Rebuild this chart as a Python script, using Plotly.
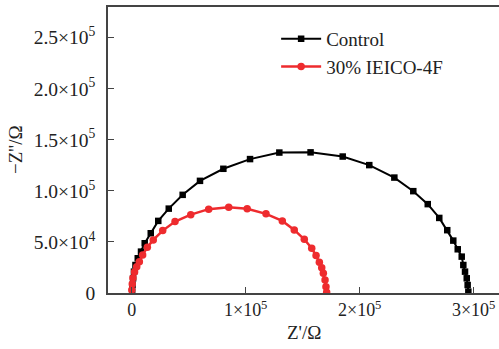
import plotly.graph_objects as go

# Control (black squares)
ctrl_x = [400, 700, 1200, 2000, 3300, 5300, 8160, 11400, 16700, 23300, 32500, 44700, 59900, 80400,
          103800, 129500, 156900, 185100, 208400, 230400, 247000, 259700, 269800, 276800, 282100,
          286000, 289500, 290900, 292400, 293900, 294700, 295300]
ctrl_y = [1300, 7800, 14400, 20900, 27400, 34000, 40500, 48700, 58500, 70600, 82600, 96100, 109800, 121600,
          131100, 137500, 137700, 133600, 125200, 113000, 99700, 87000, 73500, 61500, 51300,
          42800, 35600, 27400, 20900, 14400, 7800, 1300]

# 30% IEICO-4F (red circles)
red_x = [100, 500, 1100, 2500, 4400, 6700, 9600, 13700, 18900, 27200, 38000, 51800, 67500, 85100,
         101300, 117800, 132100, 142600, 151400, 157900, 161700, 164600, 166700, 168100, 169600,
         170400, 171000]
red_y = [2900, 8800, 14700, 20600, 25800, 30700, 37300, 44800, 52000, 61100, 69900, 76700, 82100, 84000,
         82400, 77500, 70600, 61800, 52600, 43800, 36600, 30100, 24800, 19300, 12700, 6200, 700]

x_tickvals = [0, 100000, 200000, 300000]
x_ticktext = ["0", "1×10<sup>5</sup>", "2×10<sup>5</sup>", "3×10<sup>5</sup>"]
y_tickvals = [0, 50000, 100000, 150000, 200000, 250000]
y_ticktext = ["0", "5.0×10<sup>4</sup>", "1.0×10<sup>5</sup>", "1.5×10<sup>5</sup>",
              "2.0×10<sup>5</sup>", "2.5×10<sup>5</sup>"]

FONT = "Liberation Serif"
RED = "#ee2b2e"
TXT = "#222"

fig = go.Figure()
fig.add_trace(go.Scatter(x=ctrl_x, y=ctrl_y, mode="lines+markers", name="Control",
                         line=dict(color="black", width=2),
                         marker=dict(symbol="square", size=6.5, color="black")))
fig.add_trace(go.Scatter(x=red_x, y=red_y, mode="lines+markers", name="30% IEICO-4F",
                         line=dict(color=RED, width=2.5),
                         marker=dict(symbol="circle", size=7.5, color=RED)))

fig.update_layout(
    width=499, height=349,
    margin=dict(l=108, r=0, t=7, b=56),
    paper_bgcolor="white", plot_bgcolor="white",
    font=dict(family=FONT, size=18, color=TXT),
    showlegend=True,
    legend=dict(x=0.43, y=0.955, xanchor="left", yanchor="top",
                bgcolor="rgba(0,0,0,0)", font=dict(family=FONT, size=19, color=TXT),
                itemwidth=40, tracegroupgap=0),
    xaxis=dict(range=[-20800, 322200], tickvals=x_tickvals, ticktext=x_ticktext,
               showgrid=False, zeroline=False, showline=True, linecolor="#444", linewidth=1.5,
               mirror=True, ticks="inside", ticklen=6, tickcolor="#444",
               tickfont=dict(family=FONT, size=18, color=TXT)),
    yaxis=dict(range=[0, 280000], tickvals=y_tickvals, ticktext=y_ticktext,
               showgrid=False, zeroline=False, showline=True, linecolor="#444", linewidth=1.5,
               mirror=False, ticks="inside", ticklen=6, tickcolor="#444", ticklabelstandoff=7,
               tickfont=dict(family=FONT, size=19.5, color=TXT)),
    annotations=[
        dict(text="Z'/Ω", xref="paper", yref="paper", x=0.5, y=0, yshift=-52,
             showarrow=False, font=dict(family=FONT, size=19, color=TXT)),
        dict(text="−Z''/Ω", xref="paper", yref="paper", x=0, y=0.5, xshift=-93,
             xanchor="center", yanchor="middle", textangle=-90,
             showarrow=False, font=dict(family=FONT, size=19, color=TXT)),
    ],
)

fig.write_html("out.html")
